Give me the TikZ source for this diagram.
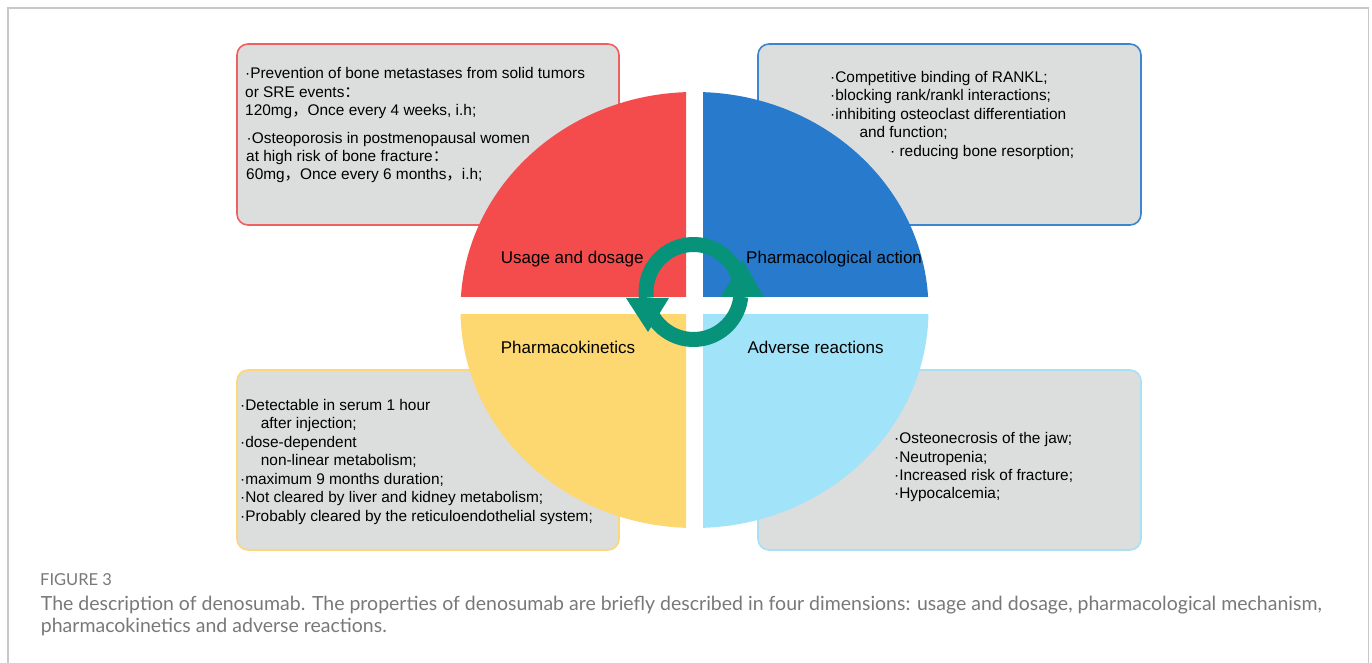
\documentclass[tikz,border=0pt]{standalone}
\usepackage{fontspec}
\setmainfont{Liberation Sans}
\newfontfamily\capfont{Lato}
\newfontfamily\cjk{Noto Sans CJK SC}

\definecolor{redq}{RGB}{244,76,76}
\definecolor{blueq}{RGB}{39,122,204}
\definecolor{yellowq}{RGB}{253,215,112}
\definecolor{cyanq}{RGB}{161,227,249}
\definecolor{redb}{RGB}{239,96,96}
\definecolor{blueb}{RGB}{60,134,208}
\definecolor{yellowb}{RGB}{252,215,126}
\definecolor{cyanb}{RGB}{170,224,244}
\definecolor{boxfill}{RGB}{220,221,221}
\definecolor{ringc}{RGB}{6,147,122}
\definecolor{framec}{RGB}{200,200,200}
\definecolor{capgray}{RGB}{120,120,120}

\newcommand{\fw}[1]{{\cjk #1}}

\tikzset{
  infobox/.style={fill=boxfill, line width=1.6pt, rounded corners=11pt},
  boxtxt/.style={anchor=base west, inner sep=0pt, font=\fontsize{15.4}{18.5}\selectfont},
  quadlbl/.style={anchor=base west, inner sep=0pt, font=\fontsize{17}{20}\selectfont},
  captxt/.style={anchor=base west, inner sep=0pt, text=capgray, font=\capfont\fontsize{19.5}{22}\selectfont},
  ringarc/.style={draw=ringc, line width=15pt},
  ringhead/.style={fill=ringc}
}

\begin{document}
\begin{tikzpicture}[x=1pt, y=1pt]
\useasboundingbox (0,0) rectangle (1372,663);

% page frame, open at the bottom
\draw[framec, line width=1.4pt] (8,0) -- (8,655) -- (1368.5,655) -- (1368.5,0);

% the four text boxes
\draw[infobox, draw=redb]    (237,438) rectangle (619,619);
\draw[infobox, draw=blueb]   (758,438) rectangle (1141,619);
\draw[infobox, draw=yellowb] (237,113) rectangle (619,293);
\draw[infobox, draw=cyanb]   (758,113) rectangle (1141,293);

% usage and dosage
\node[boxtxt] (u1) at (245,584)   {·Prevention of bone metastases from solid tumors};
\node[boxtxt] (u2) at (245,565.7) {or SRE events\fw{：}};
\node[boxtxt] (u3) at (245,547)   {120mg\fw{，}Once every 4 weeks, i.h;};
\node[boxtxt] (u4) at (246.5,519) {·Osteoporosis in postmenopausal women};
\node[boxtxt] (u5) at (246,501.3) {at high risk of bone fracture\fw{：}};
\node[boxtxt] (u6) at (246,483)   {60mg\fw{，}Once every 6 months\fw{，}i.h;};

% pharmacological action
\node[boxtxt] (p1) at (830,580.3)   {·Competitive binding of RANKL;};
\node[boxtxt] (p2) at (830,562)     {·blocking rank/rankl interactions;};
\node[boxtxt] (p3) at (830,543.5)   {·inhibiting osteoclast differentiation};
\node[boxtxt] (p4) at (859.3,525)   {and function;};
\node[boxtxt] (p5) at (890,506.5)   {· reducing bone resorption;};

% pharmacokinetics
\node[boxtxt] (k1) at (240,252.3)   {·Detectable in serum 1 hour};
\node[boxtxt] (k2) at (260.7,234)   {after injection;};
\node[boxtxt] (k3) at (240,215.3)   {·dose-dependent};
\node[boxtxt] (k4) at (260.7,197)   {non-linear metabolism;};
\node[boxtxt] (k5) at (240,178.7)   {·maximum 9 months duration;};
\node[boxtxt] (k6) at (240,160.3)   {·Not cleared by liver and kidney metabolism;};
\node[boxtxt] (k7) at (240,141.5)   {·Probably cleared by the reticuloendothelial system;};

% adverse reactions
\node[boxtxt] (a1) at (894,219)     {·Osteonecrosis of the jaw;};
\node[boxtxt] (a2) at (894,200.7)   {·Neutropenia;};
\node[boxtxt] (a3) at (894,182.3)   {·Increased risk of fracture;};
\node[boxtxt] (a4) at (894,164)     {·Hypocalcemia;};

% the split ellipse
\coordinate (ec) at (694.5,353);
\begin{scope}
  \clip (0,366) rectangle (686,663);
  \fill[redq] (ec) ellipse [x radius=234, y radius=218];
\end{scope}
\begin{scope}
  \clip (703,366) rectangle (1372,663);
  \fill[blueq] (ec) ellipse [x radius=234, y radius=218];
\end{scope}
\begin{scope}
  \clip (0,0) rectangle (686,348);
  \fill[yellowq] (ec) ellipse [x radius=234, y radius=218];
\end{scope}
\begin{scope}
  \clip (703,0) rectangle (1372,348);
  \fill[cyanq] (ec) ellipse [x radius=234, y radius=218];
\end{scope}

% quadrant titles
\node[quadlbl] (q1) at (500.7,399.7) {Usage and dosage};
\node[quadlbl] (q2) at (746,399.7)   {Pharmacological action};
\node[quadlbl] (q3) at (500.7,309)   {Pharmacokinetics};
\node[quadlbl] (q4) at (747.3,309)   {Adverse reactions};

% cycle arrows in the middle
\coordinate (rc) at (693.5,371);
\draw[ringarc] (rc) ++(15:47.5) arc[start angle=15, end angle=187, radius=47.5];
\draw[ringarc] (rc) ++(195:47.5) arc[start angle=195, end angle=354.3, radius=47.5];
\fill[ringhead] (626,365) -- (669,365) -- (648,331) -- cycle;
\fill[ringhead] (721,366) -- (764,366) -- (742.5,403) -- cycle;

% caption
\node[captxt, font=\capfont\fontsize{16.5}{18}\selectfont] (fig) at (40,77) {FIGURE 3};
\node[captxt] (c1) at (40.7,52) {The description of denosumab. The properties of denosumab are briefly described in four dimensions: usage and dosage, pharmacological mechanism,};
\node[captxt] (c2) at (40.7,30) {pharmacokinetics and adverse reactions.};
\end{tikzpicture}
\end{document}
